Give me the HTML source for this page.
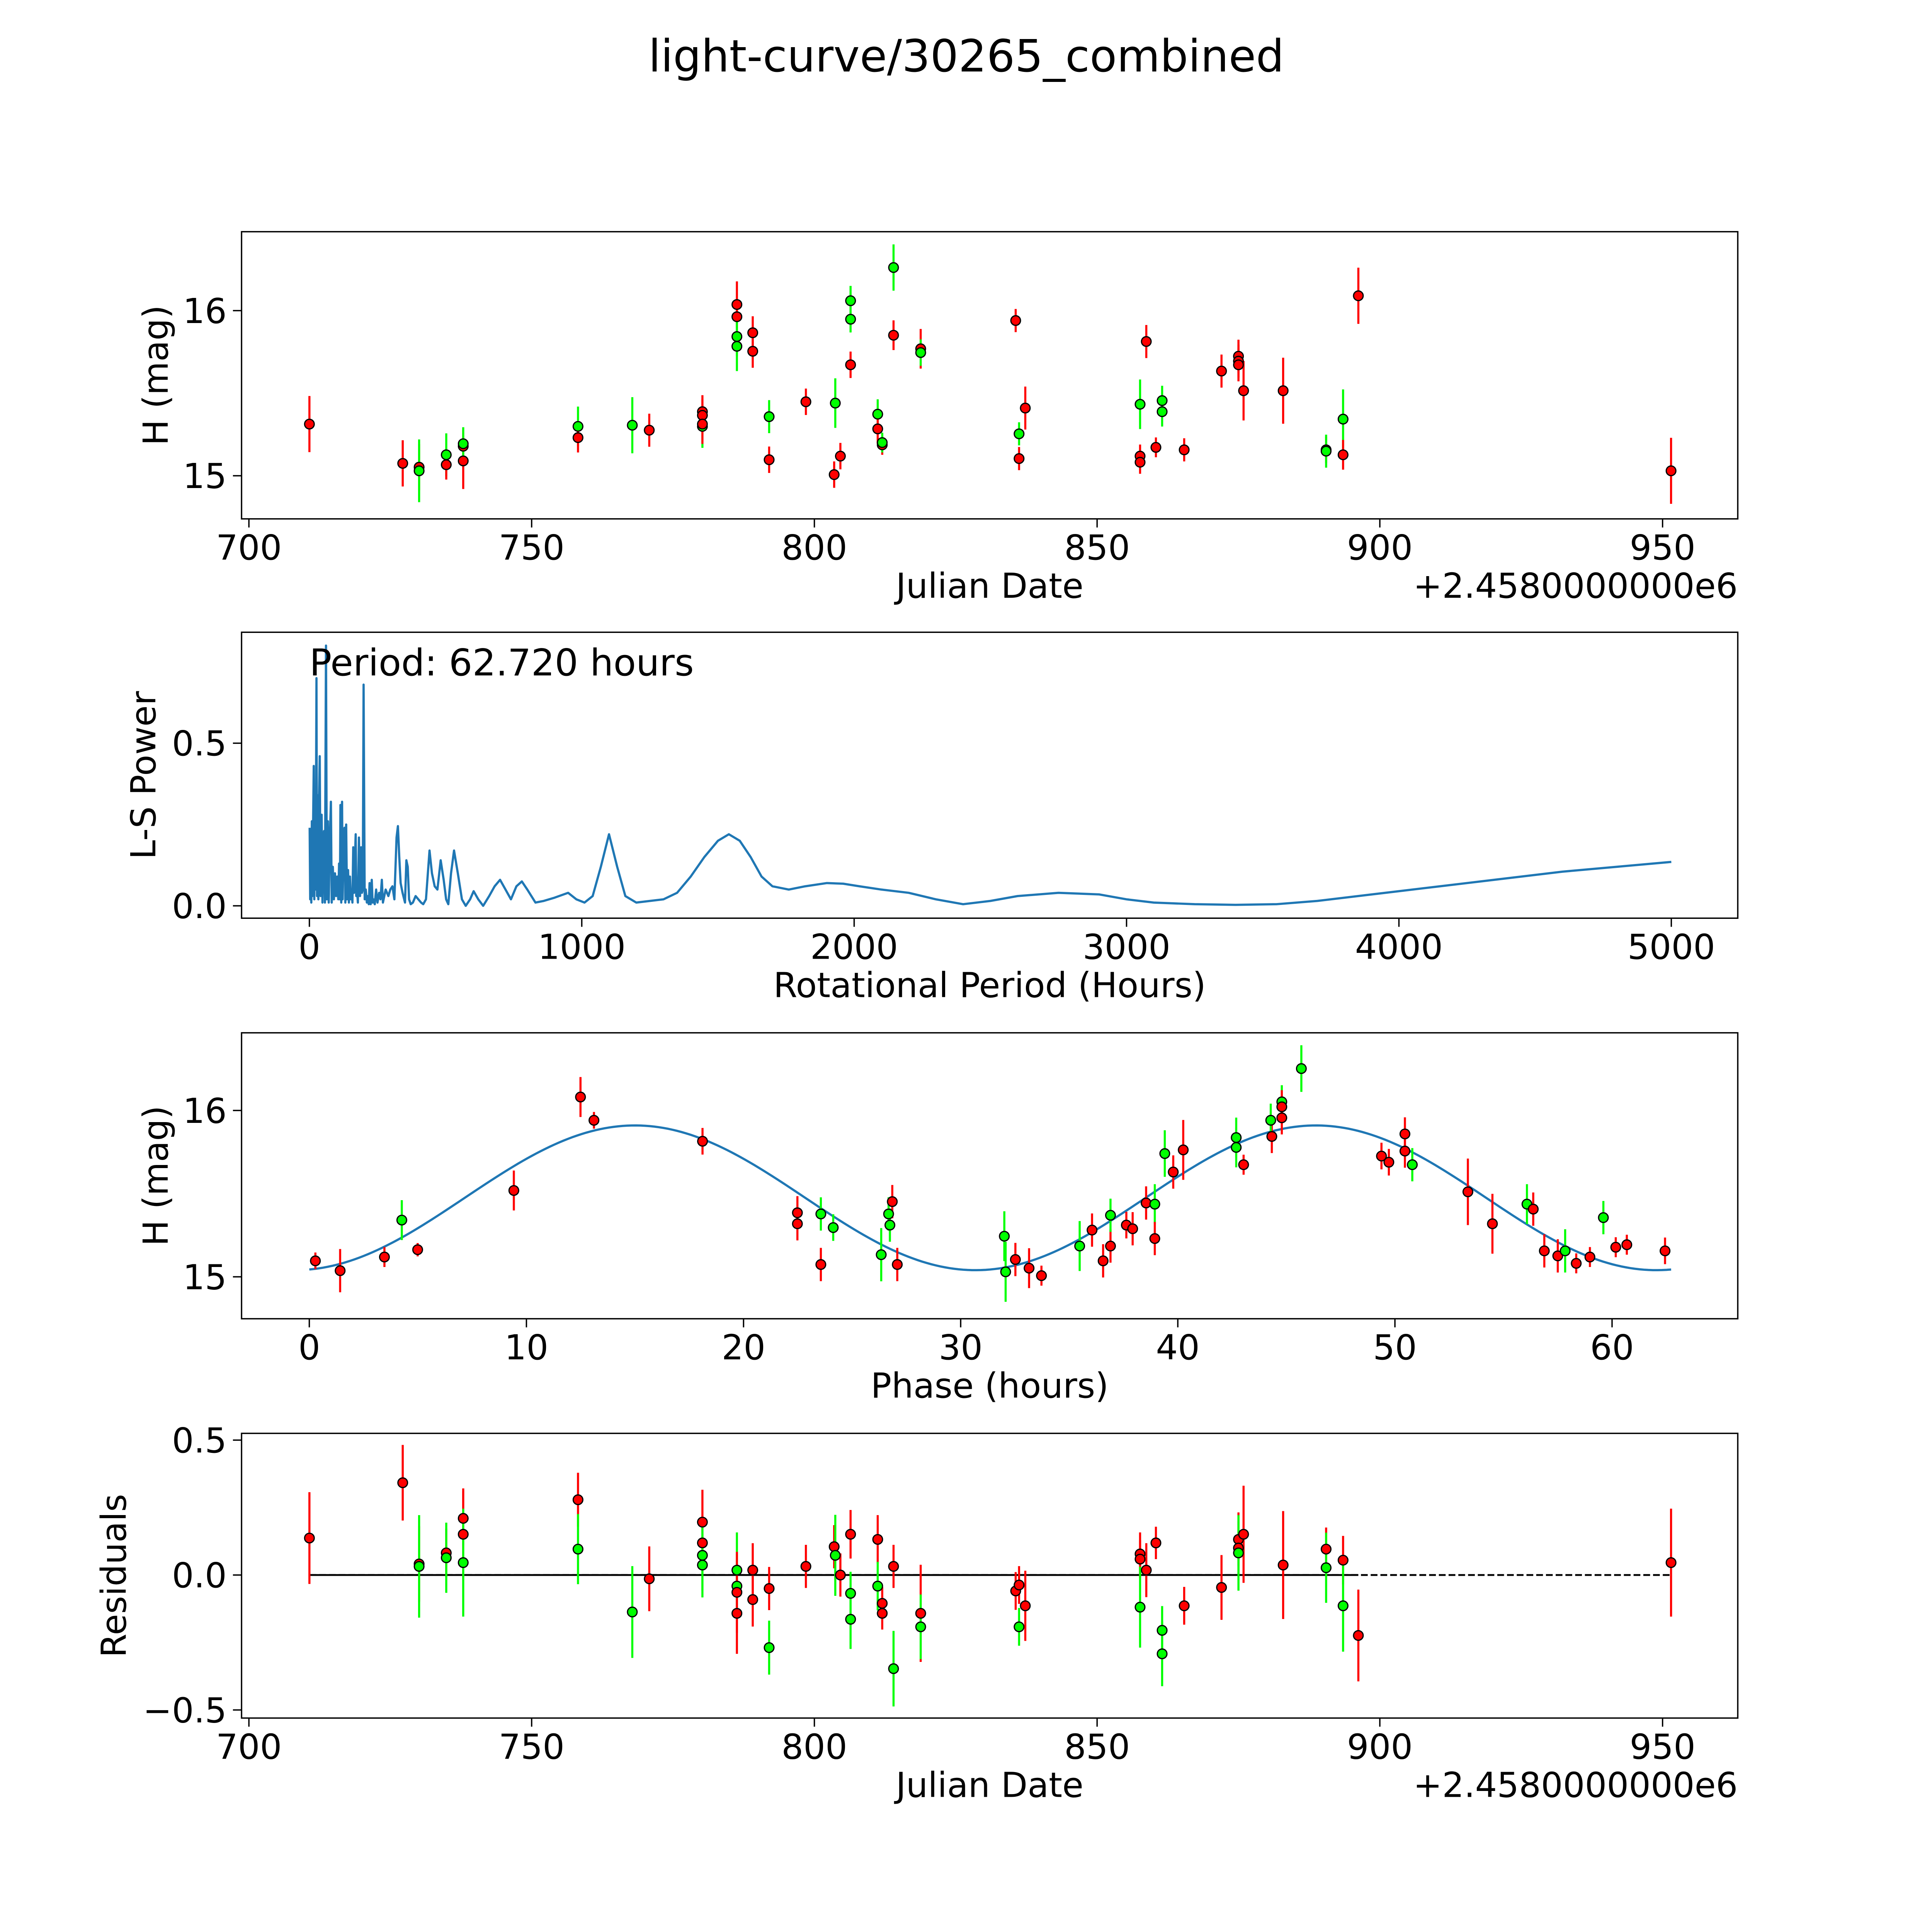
<!DOCTYPE html>
<html><head><meta charset="utf-8"><style>
html,body{margin:0;padding:0;background:#fff;overflow:hidden;}
svg{display:block;font-family:"DejaVu Sans","Liberation Sans",sans-serif;}
</style></head><body>
<svg id="fig" width="5400" height="5400" viewBox="0 0 1693 1693" xmlns="http://www.w3.org/2000/svg">
<rect width="1693" height="1693" fill="#fff"/>
<text x="784" y="58" font-size="36" text-anchor="middle">light-curve/30265_combined</text>
</svg>
<script>
// ---- light curve data (panel 1) ----
const lcJd = [710.7,727.2,730.1,730.1,734.9,734.9,737.9,737.9,737.9,758.2,758.2,767.8,770.8,780.2,780.2,780.2,780.2,786.3,786.3,786.3,786.3,789.1,789.1,792.0,792.0,798.5,803.5,803.7,804.6,806.4,806.4,806.4,811.2,811.2,812.0,812.0,814.0,814.0,818.8,818.8,835.6,836.2,836.2,837.3,857.6,857.6,857.6,858.7,860.4,861.5,861.5,865.4,872.0,875.0,875.0,875.0,875.9,882.9,890.5,890.5,893.5,893.5,896.2,951.5];
const lcMag = [15.313,15.075,15.052,15.030,15.127,15.067,15.179,15.090,15.194,15.299,15.231,15.306,15.276,15.388,15.366,15.299,15.313,16.037,15.963,15.843,15.784,15.866,15.754,15.358,15.097,15.448,15.007,15.440,15.119,16.060,15.948,15.672,15.373,15.284,15.187,15.201,16.261,15.851,15.769,15.746,15.940,15.254,15.104,15.410,15.433,15.119,15.082,15.813,15.172,15.455,15.388,15.157,15.634,15.724,15.694,15.672,15.515,15.515,15.157,15.149,15.343,15.127,16.090,15.030];
const lcErr = [0.17,0.14,0.14,0.19,0.13,0.09,0.1,0.17,0.1,0.12,0.09,0.17,0.1,0.1,0.1,0.13,0.12,0.14,0.1,0.12,0.15,0.1,0.1,0.1,0.08,0.08,0.08,0.15,0.08,0.09,0.08,0.08,0.09,0.09,0.06,0.06,0.14,0.09,0.12,0.08,0.07,0.07,0.07,0.13,0.15,0.07,0.07,0.1,0.06,0.09,0.09,0.07,0.1,0.1,0.1,0.1,0.18,0.2,0.08,0.1,0.18,0.09,0.17,0.2];
const lcColor = ['r','r','r','g','g','r','r','r','g','g','r','g','r','r','r','g','r','r','r','g','g','r','r','g','r','r','r','g','r','g','g','r','g','r','r','g','g','r','r','g','r','g','r','r','g','r','r','r','r','g','g','r','r','r','r','r','r','r','r','g','g','r','r','r'];
// ---- periodogram ----
const lsPeriod = [1,3,5,7,9,11,13,16,18,20,23,26,28,31,33,35,38,41,45,48,51,54,57,61,64,68,71,75,79,82,86,90,94,98,102,106,109,112,114,117,120,122,125,129,132,135,138,142,145,149,152,155,158,161,164,167,170,172,175,178,182,186,190,193,196,199,203,207,211,215,218,221,225,229,232,235,240,245,250,256,261,266,270,275,280,285,290,297,305,312,320,325,330,335,342,351,356,361,366,372,380,390,400,410,418,428,441,450,460,470,482,493,502,510,520,531,545,560,574,590,603,620,638,660,680,700,720,740,760,780,800,830,860,900,950,980,1010,1040,1070,1100,1130,1160,1200,1250,1300,1350,1400,1450,1500,1540,1580,1620,1660,1700,1760,1820,1900,1960,2020,2100,2200,2300,2400,2500,2600,2750,2900,3000,3100,3250,3400,3550,3700,3850,4000,4150,4300,4450,4600,4800,5000];
const lsPower = [0.24,0.02,0.22,0.01,0.26,0.03,0.2,0.43,0.02,0.33,0.05,0.70,0.03,0.34,0.02,0.3,0.46,0.03,0.28,0.01,0.2,0.23,0.01,0.80,0.02,0.26,0.01,0.2,0.32,0.01,0.12,0.02,0.1,0.03,0.09,0.02,0.13,0.02,0.31,0.01,0.32,0.02,0.2,0.24,0.01,0.25,0.02,0.11,0.01,0.09,0.02,0.05,0.01,0.18,0.04,0.14,0.22,0.03,0.05,0.01,0.21,0.03,0.18,0.04,0.05,0.68,0.02,0.05,0.01,0.03,0.005,0.07,0.005,0.08,0.01,0.02,0.005,0.05,0.01,0.04,0.02,0.08,0.01,0.03,0.05,0.04,0.03,0.05,0.06,0.02,0.21,0.245,0.15,0.07,0.04,0.01,0.14,0.12,0.02,0.005,0.01,0.03,0.02,0.01,0.005,0.02,0.17,0.1,0.06,0.05,0.14,0.08,0.02,0.005,0.1,0.17,0.1,0.02,0.0,0.02,0.045,0.02,0.0,0.03,0.06,0.08,0.05,0.02,0.06,0.075,0.05,0.01,0.015,0.025,0.04,0.02,0.01,0.03,0.12,0.22,0.12,0.03,0.01,0.015,0.02,0.04,0.09,0.15,0.2,0.22,0.2,0.15,0.09,0.06,0.05,0.06,0.07,0.068,0.06,0.05,0.04,0.02,0.005,0.015,0.03,0.04,0.035,0.02,0.01,0.005,0.003,0.005,0.015,0.03,0.045,0.06,0.075,0.09,0.105,0.12,0.135];
// ---- phase-folded data (panel 3) ----
const phHours = [0.28,1.42,3.46,4.26,4.99,9.42,12.49,13.11,18.11,22.48,22.48,23.56,23.56,24.13,26.34,26.68,26.74,26.85,27.08,32.01,32.07,32.52,33.15,33.72,35.48,36.05,36.56,36.90,36.90,37.63,37.92,38.54,38.94,38.94,39.40,39.79,40.25,42.69,42.69,43.03,44.33,44.28,44.79,44.79,44.79,45.69,49.38,49.72,50.46,50.46,50.80,53.36,54.49,56.08,56.37,56.88,57.50,57.84,58.35,58.98,59.60,60.17,60.68,62.44];
const phMag = [15.096,15.037,15.119,15.341,15.163,15.519,16.081,15.941,15.815,15.385,15.319,15.378,15.074,15.296,15.133,15.378,15.311,15.452,15.074,15.244,15.030,15.104,15.052,15.007,15.185,15.281,15.096,15.185,15.370,15.311,15.289,15.444,15.437,15.230,15.741,15.630,15.763,15.837,15.778,15.674,15.844,15.941,16.052,16.022,15.956,16.252,15.726,15.689,15.859,15.756,15.674,15.511,15.319,15.437,15.407,15.156,15.126,15.156,15.081,15.119,15.356,15.178,15.193,15.156];
const phColor = ['r','r','r','g','r','r','r','r','r','r','r','g','r','g','g','g','g','r','r','g','g','r','r','r','g','r','r','r','g','r','r','r','g','r','g','r','r','g','g','r','r','g','g','r','r','g','r','r','r','r','g','r','r','g','r','r','r','g','r','r','g','r','r','r'];
const phErr = [0.05,0.13,0.06,0.12,0.04,0.12,0.12,0.05,0.08,0.1,0.1,0.1,0.1,0.08,0.16,0.1,0.1,0.1,0.1,0.15,0.18,0.1,0.12,0.06,0.15,0.1,0.1,0.1,0.1,0.08,0.1,0.1,0.12,0.1,0.14,0.1,0.18,0.12,0.12,0.06,0.1,0.1,0.1,0.1,0.1,0.14,0.08,0.08,0.1,0.1,0.1,0.2,0.18,0.12,0.1,0.1,0.1,0.13,0.06,0.06,0.1,0.06,0.06,0.08];
const fitMean = 15.475, fitAmp = 0.435, fitPeriod = 31.36, fitPhase = 7.16, fitEnd = 62.72;
// ---- residuals (panel 4) ----
const resJd = [710.7,727.2,730.1,730.1,734.9,734.9,737.9,737.9,737.9,758.2,758.2,767.8,770.8,780.2,780.2,780.2,780.2,786.3,786.3,786.3,786.3,789.1,789.1,792.0,792.0,798.5,803.5,803.7,804.6,806.4,806.4,806.4,811.2,811.2,812.0,812.0,814.0,814.0,818.8,818.8,835.6,836.2,836.2,837.3,857.6,857.6,857.6,858.7,860.4,861.5,861.5,865.4,872.0,875.0,875.0,875.0,875.9,882.9,890.5,890.5,893.5,893.5,896.2,951.5];
const resVal = [0.137,0.342,0.041,0.032,0.082,0.064,0.210,0.151,0.046,0.279,0.096,-0.137,-0.014,0.196,0.119,0.073,0.037,0.018,-0.041,-0.064,-0.142,0.018,-0.091,-0.050,-0.269,0.032,0.105,0.073,0.0,0.151,-0.068,-0.164,0.132,-0.041,-0.105,-0.142,0.032,-0.347,-0.142,-0.192,-0.059,-0.037,-0.192,-0.114,0.078,0.059,-0.119,0.018,0.119,-0.205,-0.292,-0.114,-0.046,0.132,0.100,0.082,0.151,0.037,0.096,0.027,0.055,-0.114,-0.224,0.046];
const resColor = ['r','r','r','g','r','g','r','r','g','r','g','g','r','r','r','g','g','g','g','r','r','r','r','r','g','r','r','g','r','r','g','g','r','g','r','r','r','g','r','g','r','r','g','r','r','r','g','r','r','g','g','r','r','r','r','g','r','r','r','g','r','g','r','r'];
const resErr = [0.17,0.14,0.14,0.19,0.09,0.13,0.1,0.17,0.2,0.1,0.13,0.17,0.12,0.12,0.1,0.13,0.12,0.14,0.12,0.15,0.15,0.1,0.1,0.08,0.1,0.08,0.08,0.15,0.08,0.09,0.08,0.11,0.09,0.09,0.06,0.06,0.08,0.14,0.18,0.12,0.07,0.07,0.07,0.13,0.08,0.07,0.15,0.1,0.06,0.09,0.12,0.07,0.12,0.1,0.1,0.14,0.18,0.2,0.08,0.13,0.09,0.17,0.17,0.2];
const dateTicks = [700,750,800,850,900,950];
const magTicks = [15,16];
const periodTicks = [0,1000,2000,3000,4000,5000];
const powerTicks = [0.0,0.5];
const phaseTicks = [0,10,20,30,40,50,60];
const resTicks = [-0.5,0.0,0.5];

const svg = document.getElementById('fig');
const NS = 'http://www.w3.org/2000/svg';
function mk(tag, attrs, parent){const e=document.createElementNS(NS,tag);for(const k in attrs)e.setAttribute(k,attrs[k]);(parent||svg).appendChild(e);return e;}
const COL = {r:'#ff0000', g:'#00ff00'};
const L=196, R=1410, FS=28;
function axis(top,bottom,xmin,xmax,ymin,ymax,name){
  const g=mk('g',{});
  
  
  return {g, x:v=>L+(v-xmin)/(xmax-xmin)*(R-L), y:v=>bottom-(v-ymin)/(ymax-ymin)*(bottom-top), top, bottom};
}
function frame(a, xt, yt, xfmt, yfmt, xlabel, ylabel, ylabX){
  const f=mk('rect',{x:L,y:a.top,width:R-L,height:a.bottom-a.top,fill:'none',stroke:'#000','stroke-width':1.1},a.g);
  
  
  xt.forEach(v=>{const X=a.x(v);mk('line',{x1:X,x2:X,y1:a.bottom,y2:a.bottom+7,stroke:'#000','stroke-width':1.1},a.g);
    const t=mk('text',{x:X,y:a.bottom+33,'font-size':FS,'text-anchor':'middle'},a.g);t.textContent=xfmt(v);
    
    });
  yt.forEach(v=>{const Y=a.y(v);mk('line',{x1:L-7,x2:L,y1:Y,y2:Y,stroke:'#000','stroke-width':1.1},a.g);
    const t=mk('text',{x:L-12,y:Y+10,'font-size':FS,'text-anchor':'end'},a.g);t.textContent=yfmt(v);
    
    });
  const xl=mk('text',{x:(L+R)/2,y:a.bottom+64,'font-size':FS,'text-anchor':'middle'},a.g);xl.textContent=xlabel;
  
  
  const cy=(a.top+a.bottom)/2;
  const yl=mk('text',{x:ylabX,y:cy,'font-size':FS,'text-anchor':'middle',transform:`rotate(-90 ${ylabX} ${cy})`},a.g);yl.textContent=ylabel;
  
  
}
function pts(a, xs, ys, es, cs){
  xs.forEach((v,i)=>{const X=a.x(v);
    const eb=mk('line',{x1:X,x2:X,y1:a.y(ys[i]-es[i]),y2:a.y(ys[i]+es[i]),stroke:COL[cs[i]],'stroke-width':1.7},a.g);
    
    });
  xs.forEach((v,i)=>{
    const c=mk('circle',{cx:a.x(v),cy:a.y(ys[i]),r:3.9,fill:COL[cs[i]],stroke:'#000','stroke-width':1},a.g);
    
    });
}
const offset=(a)=>{const t=mk('text',{x:R,y:a.bottom+64,'font-size':FS,'text-anchor':'end'},a.g);t.textContent='+2.4580000000e6';
  
  };

// Panel 1
const a1=axis(188,421,698.7,963.3,14.739,16.478,'light-curve-panel');
pts(a1,lcJd,lcMag,lcErr,lcColor);
frame(a1,dateTicks,magTicks,v=>v,v=>v,'Julian Date','H (mag)',136);
offset(a1);
// Panel 2
const a2=axis(513,745,-249,5244,-0.038,0.841,'periodogram-panel');
let d='';lsPeriod.forEach((p,i)=>{d+=(i?'L':'M')+a2.x(p).toFixed(2)+' '+a2.y(lsPower[i]).toFixed(2);});
const pl=mk('path',{d,fill:'none',stroke:'#1f77b4','stroke-width':1.8,'stroke-linejoin':'round'},a2.g);


frame(a2,periodTicks,powerTicks,v=>v,v=>v.toFixed(1),'Rotational Period (Hours)','L-S Power',126);
const pt=mk('text',{x:a2.x(0),y:548,'font-size':30},a2.g);pt.textContent='Period: 62.720 hours';


// Panel 3
const a3=axis(838,1070,-3.12,65.79,14.748,16.467,'phase-panel');
let d3='';for(let i=0;i<=300;i++){const t=fitEnd*i/300;const m=fitMean+fitAmp*Math.sin(2*Math.PI*(t-fitPhase)/fitPeriod);d3+=(i?'L':'M')+a3.x(t).toFixed(2)+' '+a3.y(m).toFixed(2);}
const fl=mk('path',{d:d3,fill:'none',stroke:'#1f77b4','stroke-width':1.8},a3.g);


pts(a3,phHours,phMag,phErr,phColor);
frame(a3,phaseTicks,magTicks,v=>v,v=>v,'Phase (hours)','H (mag)',136);
// Panel 4
const a4=axis(1163,1394,698.7,963.3,-0.530,0.525,'residuals-panel');
const zl=mk('line',{x1:a4.x(710.7),x2:a4.x(951.5),y1:a4.y(0),y2:a4.y(0),stroke:'#000','stroke-width':1.5,'stroke-dasharray':'5.5 2.4'},a4.g);


const zs=mk('line',{x1:a4.x(710.7),x2:a4.x(896.2),y1:a4.y(0),y2:a4.y(0),stroke:'#000','stroke-width':1.5},a4.g);


pts(a4,resJd,resVal,resErr,resColor);
frame(a4,dateTicks,resTicks,v=>v,v=>(v<0?'\u2212':'')+Math.abs(v).toFixed(1),'Julian Date','Residuals',102);
offset(a4);
</script>
</body></html>
